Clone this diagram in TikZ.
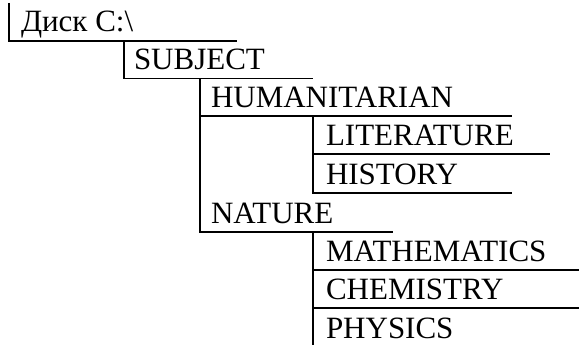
\documentclass[tikz,border=0pt]{standalone}
\usepackage{fontspec}
\setmainfont{Liberation Serif}
\begin{document}
\begin{tikzpicture}[x=1pt,y=-1pt,
  rule/.style={line width=1.7pt, black},
  lbl/.style={anchor=base west, inner sep=0pt, outer sep=0pt,
    font=\fontsize{31}{31}\selectfont}]
\useasboundingbox (0,0) rectangle (579,345);
% labels
\node[lbl] (disk) at (21,32) {Диск C:\textbackslash};
\node[lbl] (subj) at (134,70) {SUBJECT};
\node[lbl] (hum) at (211,107.5) {HUMANITARIAN};
\node[lbl] (lit) at (326,146) {LITERATURE};
\node[lbl] (hist) at (326,184.5) {HISTORY};
\node[lbl] (nat) at (211,223) {NATURE};
\node[lbl] (math) at (326,261) {MATHEMATICS};
\node[lbl] (chem) at (326,299.5) {CHEMISTRY};
\node[lbl] (phys) at (326,338) {PHYSICS};
% rules
\draw[rule] (9,3) -- (9,41) -- (237,41);
\draw[rule] (124,41) -- (124,78.5) -- (313,78.5);
\draw[rule] (200,78.5) -- (200,232) -- (393,232);
\draw[rule] (200,116) -- (512,116);
\draw[rule] (313,116) -- (313,193) -- (512,193);
\draw[rule] (313,154) -- (550,154);
\draw[rule] (313,232) -- (313,345);
\draw[rule] (313,270) -- (579,270);
\draw[rule] (313,308) -- (579,308);
\end{tikzpicture}
\end{document}
